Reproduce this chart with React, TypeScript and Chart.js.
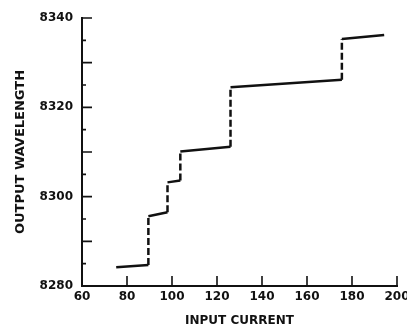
import React, { useEffect, useRef } from "react";
import { Chart, registerables } from "chart.js";

Chart.register(...registerables);

// Input current (x) and output wavelength (y) for the mode-hopping staircase
const currentValues = [75.2, 89.5, 89.5, 98, 98, 103.7, 103.7, 126, 126, 175.5, 175.5, 194.3];
const wavelengthValues = [8284.2, 8284.7, 8295.6, 8296.5, 8303.2, 8303.6, 8310.1, 8311.2, 8324.5, 8326.2, 8335.3, 8336.2];

const xLabelTicks = [60, 80, 100, 120, 140, 160, 180, 200];
const yLabelTicks = [8280, 8300, 8320, 8340];
const yMarkTicks = [8285, 8290, 8295, 8300, 8305, 8310, 8315, 8320, 8325, 8330, 8335, 8340];
const xMarkTicks = [80, 100, 120, 140, 160, 180, 200];

const FONT = "'DejaVu Sans', sans-serif";
const INK = "#111";

const inwardTicks = {
  id: "inwardTicks",
  afterDraw(chart: any) {
    const { ctx, scales } = chart;
    const xs = scales.x;
    const ys = scales.y;
    ctx.save();
    ctx.strokeStyle = INK;
    ctx.lineWidth = 1.6;
    ctx.beginPath();
    for (const v of yMarkTicks) {
      const py = ys.getPixelForValue(v);
      const len = v % 10 === 0 ? 10 : 4;
      ctx.moveTo(xs.left, py);
      ctx.lineTo(xs.left + len, py);
    }
    for (const v of xMarkTicks) {
      const px = xs.getPixelForValue(v);
      ctx.moveTo(px, ys.bottom);
      ctx.lineTo(px, ys.bottom - 10);
    }
    ctx.stroke();
    ctx.restore();
  },
};

export default function App() {
  const ref = useRef<HTMLCanvasElement | null>(null);
  useEffect(() => {
    if (!ref.current) return;
    const data = currentValues.map((x, i) => ({ x, y: wavelengthValues[i] }));
    const chart = new Chart(ref.current, {
      type: "scatter",
      data: {
        datasets: [
          {
            data,
            showLine: true,
            pointRadius: 0,
            borderColor: INK,
            borderWidth: 2.5,
            borderJoinStyle: "round",
            borderCapStyle: "butt",
            segment: {
              borderDash: (c: any) =>
                c.p0.parsed.x === c.p1.parsed.x ? [7, 3] : undefined,
            },
          } as any,
        ],
      },
      options: {
        animation: false,
        responsive: false,
        devicePixelRatio: 1,
        layout: { padding: { top: 18, right: 10, left: 0, bottom: 0 } },
        plugins: { legend: { display: false }, tooltip: { enabled: false } },
        scales: {
          x: {
            type: "linear",
            min: 60,
            max: 200,
            afterBuildTicks: (s: any) => {
              s.ticks = xLabelTicks.map((value) => ({ value }));
            },
            afterFit: (s: any) => {
              s.height = 41;
              s.paddingLeft = 0;
              s.paddingRight = 0;
            },
            grid: { display: false, drawTicks: false },
            border: { display: true, color: INK, width: 2 },
            ticks: {
              color: INK,
              padding: 4,
              maxRotation: 0,
              callback: (v: any) => String(v),
              font: { family: FONT, size: 12, weight: "bold" },
            },
            title: {
              display: true,
              text: "INPUT CURRENT",
              color: INK,
              padding: { top: 0, bottom: 0 },
              font: { family: FONT, size: 12, weight: "bold", lineHeight: 1 },
            },
          },
          y: {
            type: "linear",
            min: 8280,
            max: 8340,
            afterBuildTicks: (s: any) => {
              s.ticks = yLabelTicks.map((value) => ({ value }));
            },
            afterFit: (s: any) => {
              s.width = 82;
              s.paddingTop = 0;
              s.paddingBottom = 0;
            },
            grid: { display: false, drawTicks: false },
            border: { display: true, color: INK, width: 2 },
            ticks: {
              color: INK,
              padding: 9,
              callback: (v: any) => String(v),
              font: { family: FONT, size: 12, weight: "bold" },
            },
            title: {
              display: true,
              text: "OUTPUT WAVELENGTH",
              color: INK,
              padding: { top: 13, bottom: 0 },
              font: { family: FONT, size: 13, weight: "bold" },
            },
          },
        },
      },
      plugins: [inwardTicks],
    });
    return () => chart.destroy();
  }, []);
  return (
    <div style={{ position: "absolute", left: 0, top: 0, width: 407, height: 327, background: "#fff" }}>
      <canvas ref={ref} width={407} height={327} style={{ display: "block" }} />
    </div>
  );
}
